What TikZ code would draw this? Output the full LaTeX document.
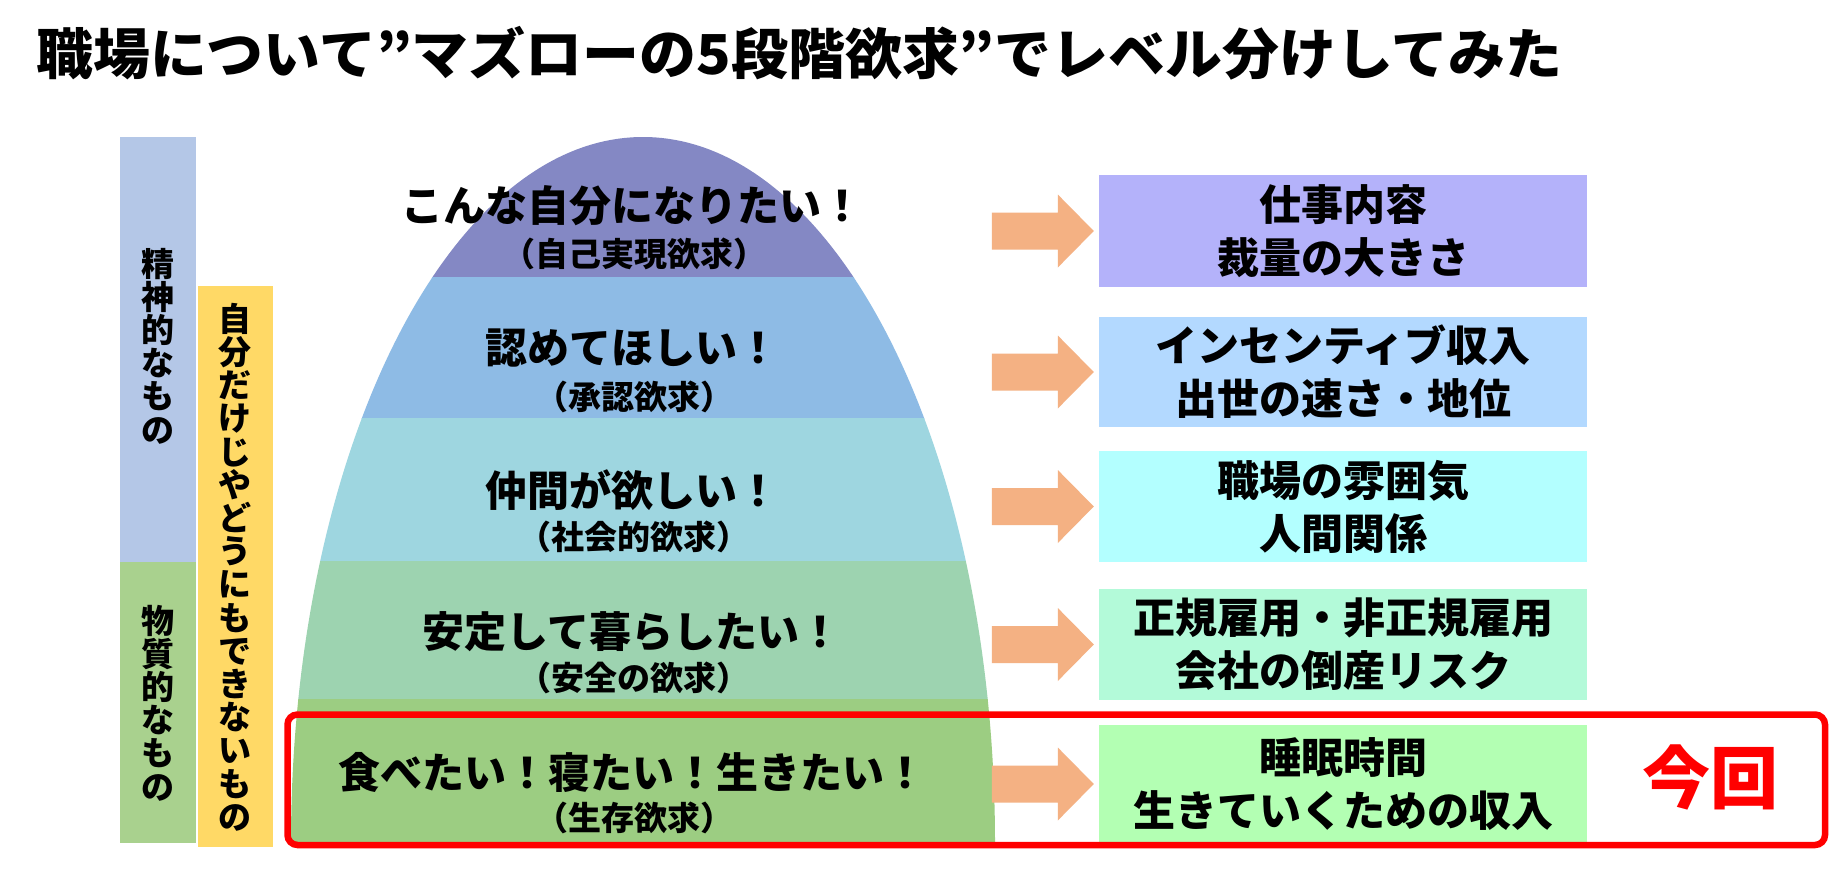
\documentclass[tikz,border=0pt]{standalone}
\usepackage{fontspec}
\setmainfont{Noto Sans CJK JP}
\usetikzlibrary{calc}
\definecolor{lvA}{HTML}{8488C4}
\definecolor{lvB}{HTML}{8EBBE5}
\definecolor{lvC}{HTML}{9ED6E0}
\definecolor{lvD}{HTML}{9DD3B0}
\definecolor{lvE}{HTML}{9CCD82}
\definecolor{barblue}{HTML}{B4C7E7}
\definecolor{bargreen}{HTML}{A9D18E}
\definecolor{baryellow}{HTML}{FFD966}
\definecolor{bxA}{HTML}{B4B2FA}
\definecolor{bxB}{HTML}{B3D9FF}
\definecolor{bxC}{HTML}{B3FFFF}
\definecolor{bxD}{HTML}{B3FAD9}
\definecolor{bxE}{HTML}{B3FFB3}
\definecolor{arrowc}{HTML}{F4B183}
\definecolor{focusred}{HTML}{FF0000}
\newcommand\blockarrow[1]{%
  \fill[arrowc] ($(#1.west)+(-107,-18.5)$) -- ($(#1.west)+(-41,-18.5)$)
    -- ($(#1.west)+(-41,-36.5)$) -- ($(#1.west)+(-5,0)$)
    -- ($(#1.west)+(-41,36.5)$) -- ($(#1.west)+(-41,18.5)$)
    -- ($(#1.west)+(-107,18.5)$) -- cycle;}
\begin{document}
\begin{tikzpicture}[x=1pt,y=-1pt,
  mainlbl/.style={inner sep=0pt, font=\fontsize{42}{53}\selectfont\bfseries},
  sublbl/.style={inner sep=0pt, font=\fontsize{33}{38}\selectfont\bfseries},
  rbox/.style={inner sep=0pt, minimum width=488pt, align=center,
               font=\fontsize{42}{53}\selectfont\bfseries},
  vtext/.style={inner sep=0pt, align=center, font=\fontsize{33}{33.2}\selectfont\bfseries},
  bar/.style={inner sep=0pt}]
\useasboundingbox (0,0) rectangle (1834,868);
\fill[white] (0,0) rectangle (1834,868);

% title
\node[anchor=west, inner sep=0pt, xscale=1.035, transform shape,
      font=\fontsize{55}{55}\selectfont\bfseries] (title) at (36,53)
  {職場について”マズローの5段階欲求”でレベル分けしてみた};

% left bars
\fill[barblue] (120,137) rectangle (196,562);
\fill[bargreen] (120,562) rectangle (196,843);
\fill[baryellow] (198,286) rectangle (273,847);
\node[vtext] (spirit) at (158,346) {精\\神\\的\\な\\も\\の};
\node[vtext] (material) at (158,703) {物\\質\\的\\な\\も\\の};
\node[vtext] (self) at (235,567) {自\\分\\だ\\け\\じ\\や\\ど\\う\\に\\も\\で\\き\\な\\い\\も\\の};

% pyramid
\begin{scope}
\clip (643,843) ellipse [x radius=352, y radius=706];
\fill[lvA] (280,120) rectangle (1010,277.5);
\fill[lvB] (280,277) rectangle (1010,418.5);
\fill[lvC] (280,418) rectangle (1010,561.5);
\fill[lvD] (280,561) rectangle (1010,699.5);
\fill[lvE] (280,699) rectangle (1010,843);
\end{scope}

\node[mainlbl] (m1) at (632,206) {こんな自分になりたい！};
\node[sublbl]  (s1) at (634,254) {（自己実現欲求）};
\node[mainlbl] (m2) at (632,348) {認めてほしい！};
\node[sublbl]  (s2) at (634,397) {（承認欲求）};
\node[mainlbl] (m3) at (632,490) {仲間が欲しい！};
\node[sublbl]  (s3) at (634,537) {（社会的欲求）};
\node[mainlbl] (m4) at (632,632) {安定して暮らしたい！};
\node[sublbl]  (s4) at (634,678) {（安全の欲求）};
\node[mainlbl] (m5) at (632,772) {食べたい！寝たい！生きたい！};
\node[sublbl]  (s5) at (634,818) {（生存欲求）};

% right boxes
\node[rbox, fill=bxA, minimum height=112pt] (b1) at (1343,231) {仕事内容\\裁量の大きさ};
\node[rbox, fill=bxB, minimum height=110pt] (b2) at (1343,372) {インセンティブ収入\\出世の速さ・地位};
\node[rbox, fill=bxC, minimum height=111pt] (b3) at (1343,506.5) {職場の雰囲気\\人間関係};
\node[rbox, fill=bxD, minimum height=111pt] (b4) at (1343,644.5) {正規雇用・非正規雇用\\会社の倒産リスク};
\node[rbox, fill=bxE, minimum height=118pt] (b5) at (1343,784) {睡眠時間\\生きていくための収入};

\blockarrow{b1}
\blockarrow{b2}
\blockarrow{b3}
\blockarrow{b4}
\blockarrow{b5}

% focus frame
\node[draw=focusred, line width=6.5pt, rounded corners=10pt, inner sep=0pt,
      minimum width=1537.5pt, minimum height=130.5pt] (focus) at (1056.25,779.75) {};
\node[inner sep=0pt, text=focusred, font=\fontsize{68}{68}\selectfont\bfseries] (now) at (1710,777) {今回};
\end{tikzpicture}
\end{document}
